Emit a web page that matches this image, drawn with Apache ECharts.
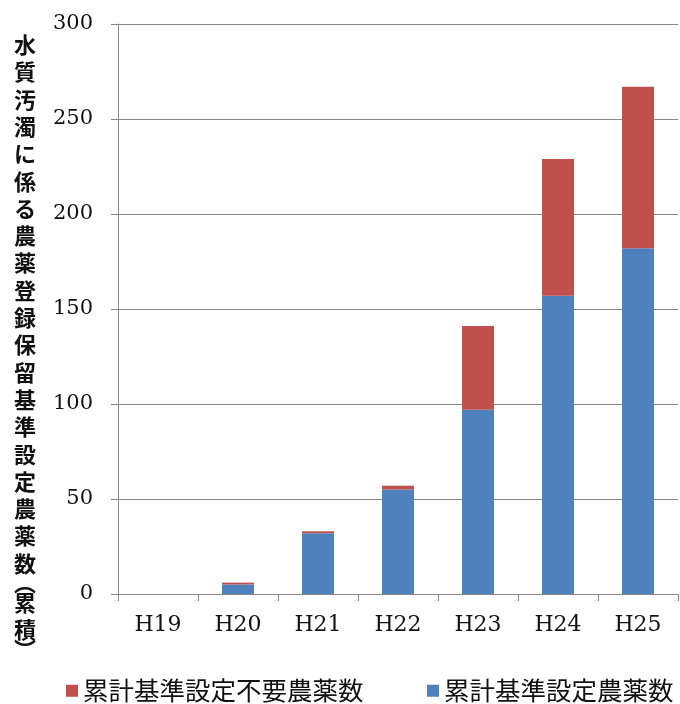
<!DOCTYPE html>
<html>
<head>
<meta charset="utf-8">
<script src="https://cdn.jsdelivr.net/npm/echarts@6/dist/echarts.min.js"></script>
<style>html,body{margin:0;padding:0;background:#fff;}#c{width:680px;height:704px;}</style>
</head>
<body>
<div id="c"></div>
<script>
var categories = ['H19', 'H20', 'H21', 'H22', 'H23', 'H24', 'H25'];
var setValues = [0, 5, 32, 55, 97, 157, 182];      // 累計基準設定農薬数
var unneededValues = [0, 1, 1, 2, 44, 72, 85];     // 累計基準設定不要農薬数
var yTicks = { min: 0, max: 300, interval: 50 };
var seriesNames = ['累計基準設定農薬数', '累計基準設定不要農薬数'];
var yTitle = '水質汚濁に係る農薬登録保留基準設定農薬数︵累積︶';

var chart = echarts.init(document.getElementById('c'), null, { renderer: 'canvas' });
var serif = '"DejaVu Serif", "Liberation Serif", serif';
var gray = '#898989';
var titleText = yTitle.split('').map(function (ch) {
  return (ch === '︵' || ch === '︶') ? '{b|' + ch + '}' : '{a|' + ch + '}';
}).join('\n');
var legendText = { fontSize: 25.5, color: '#111', fontFamily: '"Noto Sans CJK JP", sans-serif' };
chart.setOption({
  animation: false,
  backgroundColor: '#fff',
  grid: { left: 118, right: 2, top: 24, bottom: 110, containLabel: false },
  legend: [{
    data: [seriesNames[1]], left: 66, top: 678, padding: 0,
    itemWidth: 12, itemHeight: 12, icon: 'rect', textStyle: legendText
  }, {
    data: [seriesNames[0]], left: 427, top: 678, padding: 0,
    itemWidth: 12, itemHeight: 12, icon: 'rect', textStyle: legendText
  }],
  xAxis: {
    type: 'category', data: categories,
    axisLine: { lineStyle: { color: gray, width: 1 } },
    axisTick: { show: true, length: 7, lineStyle: { color: gray } },
    axisLabel: { fontSize: 22, color: '#111', fontFamily: serif, margin: 20 }
  },
  yAxis: {
    type: 'value', min: yTicks.min, max: yTicks.max, interval: yTicks.interval,
    axisLine: { show: true, lineStyle: { color: gray, width: 1 } },
    axisTick: { show: true, length: 7, lineStyle: { color: gray } },
    axisLabel: { fontSize: 21, color: '#111', fontFamily: serif, margin: 25 },
    splitLine: { lineStyle: { color: gray, width: 1 } }
  },
  graphic: [{
    type: 'text', x: 25, y: 31,
    style: {
      text: titleText,
      align: 'center', verticalAlign: 'top',
      fill: '#111',
      rich: {
        a: { fontSize: 22, fontWeight: 'bold', fontFamily: '"Noto Sans CJK JP", sans-serif', lineHeight: 27.3, align: 'center', fill: '#111' },
        b: { fontSize: 22, fontWeight: 'bold', fontFamily: '"Noto Sans CJK JP", sans-serif', lineHeight: 12, align: 'center', fill: '#111' }
      }
    }
  }],
  series: [
    { name: seriesNames[0], type: 'bar', stack: 't', data: setValues, barWidth: '40%',
      itemStyle: { color: '#4F81BD' } },
    { name: seriesNames[1], type: 'bar', stack: 't', data: unneededValues, barWidth: '40%',
      itemStyle: { color: '#C0504D' } }
  ]
});
</script>
</body>
</html>
